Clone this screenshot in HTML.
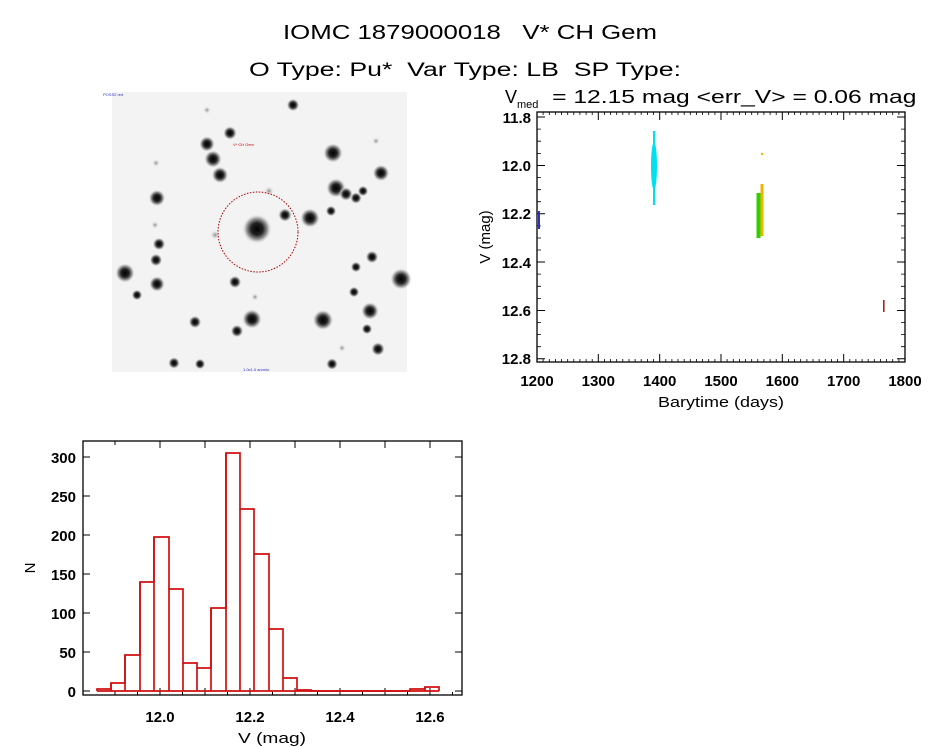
<!DOCTYPE html>
<html><head><meta charset="utf-8"><style>
html,body{margin:0;padding:0;background:#fff;}
svg{display:block;font-family:"Liberation Sans",sans-serif;}
text{white-space:pre;}
</style></head><body>
<svg width="944" height="747" viewBox="0 0 944 747" xmlns="http://www.w3.org/2000/svg">
<defs>
<radialGradient id="st"><stop offset="0" stop-color="#000"/><stop offset="0.4" stop-color="#222"/><stop offset="0.7" stop-color="#999"/><stop offset="1" stop-color="#f2f2f2" stop-opacity="0"/></radialGradient>
<radialGradient id="sf"><stop offset="0" stop-color="#888"/><stop offset="1" stop-color="#f2f2f2" stop-opacity="0"/></radialGradient>
</defs>
<text x="283" y="39" font-size="20" textLength="374" lengthAdjust="spacingAndGlyphs">IOMC 1879000018   V* CH Gem</text>
<text x="249" y="76" font-size="19" textLength="432" lengthAdjust="spacingAndGlyphs">O Type: Pu*  Var Type: LB  SP Type:</text>

<!-- star image -->
<rect x="112" y="92" width="295" height="280" fill="#f3f3f3"/>
<g fill="url(#st)">
<circle cx="257" cy="229" r="15"/>
<circle cx="310" cy="218" r="10"/><circle cx="285" cy="215" r="7"/><circle cx="333" cy="153" r="10"/>
<circle cx="381" cy="173" r="8.5"/><circle cx="336" cy="188" r="10"/><circle cx="346" cy="194" r="7"/>
<circle cx="356" cy="198" r="6"/><circle cx="363" cy="191" r="5.5"/><circle cx="331" cy="211" r="5.5"/>
<circle cx="207" cy="144" r="8"/><circle cx="213" cy="159" r="9"/><circle cx="220" cy="175" r="8.5"/>
<circle cx="230" cy="133" r="7"/><circle cx="293" cy="105" r="6.5"/><circle cx="157" cy="198" r="8.5"/>
<circle cx="159" cy="244" r="6.5"/><circle cx="156" cy="260" r="6.5"/><circle cx="125" cy="273" r="10"/>
<circle cx="157" cy="284" r="8"/><circle cx="137" cy="295" r="5.5"/><circle cx="235" cy="282" r="6.5"/>
<circle cx="401" cy="279" r="11"/><circle cx="372" cy="257" r="6.5"/><circle cx="356" cy="267" r="5.5"/>
<circle cx="354" cy="292" r="5.5"/><circle cx="370" cy="311" r="9"/><circle cx="323" cy="320" r="10.5"/>
<circle cx="252" cy="319" r="10"/><circle cx="195" cy="322" r="6.5"/><circle cx="237" cy="331" r="6.5"/>
<circle cx="367" cy="329" r="5.5"/><circle cx="378" cy="349" r="7"/><circle cx="174" cy="363" r="6"/>
<circle cx="200" cy="364" r="5.5"/><circle cx="332" cy="364" r="6"/>
</g>
<g fill="url(#sf)">
<circle cx="215" cy="235" r="5"/><circle cx="156" cy="163" r="4"/><circle cx="269" cy="191" r="5"/>
<circle cx="376" cy="141" r="4"/><circle cx="207" cy="110" r="4"/><circle cx="155" cy="225" r="4"/>
<circle cx="255" cy="297" r="4"/><circle cx="342" cy="348" r="4"/>
</g>
<circle cx="258" cy="232" r="40" fill="none" stroke="#a00" stroke-width="1" stroke-dasharray="1.5,1.5"/>
<text x="233" y="146" font-size="4" fill="#c00">V* CH Gem</text>
<text x="103" y="96" font-size="4" fill="#33c">POSS2 red</text>
<text x="243" y="371" font-size="4" fill="#33c">1.0x1.0 arcmin</text>

<!-- light curve -->
<rect x="537" y="112" width="368" height="250" fill="none" stroke="#000" stroke-width="1.3"/>
<g stroke="#000" stroke-width="1">
<path d="M537,112v8M537,362v-8M598.3,112v8M598.3,362v-8M659.7,112v8M659.7,362v-8M721,112v8M721,362v-8M782.3,112v8M782.3,362v-8M843.7,112v8M843.7,362v-8M905,112v8M905,362v-8"/>
<path d="M537,117h8M905,117h-8M537,165.5h8M905,165.5h-8M537,213.8h8M905,213.8h-8M537,262h8M905,262h-8M537,310.5h8M905,310.5h-8M537,358.8h8M905,358.8h-8" />
</g>
<g stroke="#000" stroke-width="0.8">
<path d="M543.1,112v3M549.3,112v3M555.4,112v3M561.5,112v3M567.7,112v3M573.8,112v3M579.9,112v3M586.1,112v3M592.2,112v3M604.4,112v3M610.6,112v3M616.7,112v3M622.8,112v3M629,112v3M635.1,112v3M641.2,112v3M647.4,112v3M653.5,112v3M665.8,112v3M671.9,112v3M678,112v3M684.2,112v3M690.3,112v3M696.4,112v3M702.6,112v3M708.7,112v3M714.9,112v3M727.1,112v3M733.3,112v3M739.4,112v3M745.5,112v3M751.7,112v3M757.8,112v3M763.9,112v3M770.1,112v3M776.2,112v3M788.5,112v3M794.6,112v3M800.7,112v3M806.9,112v3M813,112v3M819.1,112v3M825.3,112v3M831.4,112v3M837.5,112v3M849.8,112v3M855.9,112v3M862.1,112v3M868.2,112v3M874.3,112v3M880.5,112v3M886.6,112v3M892.7,112v3M898.9,112v3"/>
<path d="M543.1,362v-3M549.3,362v-3M555.4,362v-3M561.5,362v-3M567.7,362v-3M573.8,362v-3M579.9,362v-3M586.1,362v-3M592.2,362v-3M604.4,362v-3M610.6,362v-3M616.7,362v-3M622.8,362v-3M629,362v-3M635.1,362v-3M641.2,362v-3M647.4,362v-3M653.5,362v-3M665.8,362v-3M671.9,362v-3M678,362v-3M684.2,362v-3M690.3,362v-3M696.4,362v-3M702.6,362v-3M708.7,362v-3M714.9,362v-3M727.1,362v-3M733.3,362v-3M739.4,362v-3M745.5,362v-3M751.7,362v-3M757.8,362v-3M763.9,362v-3M770.1,362v-3M776.2,362v-3M788.5,362v-3M794.6,362v-3M800.7,362v-3M806.9,362v-3M813,362v-3M819.1,362v-3M825.3,362v-3M831.4,362v-3M837.5,362v-3M849.8,362v-3M855.9,362v-3M862.1,362v-3M868.2,362v-3M874.3,362v-3M880.5,362v-3M886.6,362v-3M892.7,362v-3M898.9,362v-3"/>
<path d="M537,129.1h4M537,141.2h4M537,153.4h4M537,177.6h4M537,189.7h4M537,201.7h4M537,225.9h4M537,238h4M537,250h4M537,274.1h4M537,286.3h4M537,298.4h4M537,322.6h4M537,334.6h4M537,346.7h4"/>
<path d="M905,129.1h-4M905,141.2h-4M905,153.4h-4M905,177.6h-4M905,189.7h-4M905,201.7h-4M905,225.9h-4M905,238h-4M905,250h-4M905,274.1h-4M905,286.3h-4M905,298.4h-4M905,322.6h-4M905,334.6h-4M905,346.7h-4"/>
</g>
<!-- data -->
<ellipse cx="654" cy="166" rx="3" ry="24" fill="#00e0f0"/>
<rect x="653" y="131" width="2.2" height="74" fill="#00e0f0"/>
<rect x="756.5" y="193" width="4" height="45" fill="#30d000"/>
<rect x="760.5" y="184" width="3" height="52" fill="#f0b400"/>
<rect x="761" y="153" width="2" height="2" fill="#f0b400"/>
<rect x="538" y="211" width="2" height="18" fill="#3030c0"/>
<rect x="883" y="300" width="1.6" height="12" fill="#b02020"/>
<g font-size="15" font-weight="bold" text-anchor="end">
<text x="531" y="123">11.8</text><text x="531" y="171">12.0</text><text x="531" y="219">12.2</text>
<text x="531" y="268">12.4</text><text x="531" y="316">12.6</text><text x="531" y="364">12.8</text>
</g>
<g font-size="15" font-weight="bold" text-anchor="middle">
<text x="537" y="386">1200</text><text x="598.3" y="386">1300</text><text x="659.7" y="386">1400</text>
<text x="721" y="386">1500</text><text x="782.3" y="386">1600</text><text x="843.7" y="386">1700</text><text x="905" y="386">1800</text>
</g>
<text x="658" y="407" font-size="15" textLength="126" lengthAdjust="spacingAndGlyphs">Barytime (days)</text>
<text transform="translate(490,237) rotate(-90)" font-size="15" text-anchor="middle">V (mag)</text>
<text x="505" y="103" font-size="18">V<tspan font-size="11" dy="5">med</tspan><tspan dy="-5" textLength="378" lengthAdjust="spacingAndGlyphs">  = 12.15 mag &lt;err_V&gt; = 0.06 mag</tspan></text>

<!-- histogram -->
<rect x="83" y="441" width="379" height="254" fill="none" stroke="#000" stroke-width="1.3"/>
<g stroke="#000" stroke-width="1">
<path d="M160,441v7M160,695v-7M205,441v7M205,695v-7M250,441v7M250,695v-7M295,441v7M295,695v-7M340,441v7M340,695v-7M385,441v7M385,695v-7M430,441v7M430,695v-7M115,441v4M115,695v-4M137.5,695v-3M182.5,695v-3M227.5,695v-3M272.5,695v-3M317.5,695v-3M362.5,695v-3M407.5,695v-3M452.5,695v-3"/>
<path d="M83,691h7M462,691h-7M83,652h7M462,652h-7M83,613h7M462,613h-7M83,574h7M462,574h-7M83,535h7M462,535h-7M83,496h7M462,496h-7M83,457h7M462,457h-7"/>
</g>
<g fill="none" stroke="#d01010" stroke-width="1.7">
<path d="M97,691V689H111V683H125V655H140V582H154V537H169V589H183V663H197V668H211V608H226V453H240V509H254V554H269V629H283V678H297V690H311V691H410V689H425V687H439V691"/>
<path d="M111,691V683M125,691V655M140,691V582M154,691V537M169,691V589M183,691V663M197,691V668M211,691V608M226,691V453M240,691V509M254,691V554M269,691V629M283,691V678M297,691V690M425,691V687"/>
<path d="M97,691H439"/>
</g>
<g font-size="15" font-weight="bold" text-anchor="end">
<text x="76" y="697">0</text><text x="76" y="658">50</text><text x="76" y="619">100</text><text x="76" y="580">150</text>
<text x="76" y="541">200</text><text x="76" y="502">250</text><text x="76" y="463">300</text>
</g>
<g font-size="15" font-weight="bold" text-anchor="middle">
<text x="160" y="722">12.0</text><text x="250" y="722">12.2</text><text x="340" y="722">12.4</text><text x="430" y="722">12.6</text>
</g>
<text x="238" y="743" font-size="15" textLength="68" lengthAdjust="spacingAndGlyphs">V (mag)</text>
<text transform="translate(35,568) rotate(-90)" font-size="15" text-anchor="middle">N</text>
</svg>
</body></html>
